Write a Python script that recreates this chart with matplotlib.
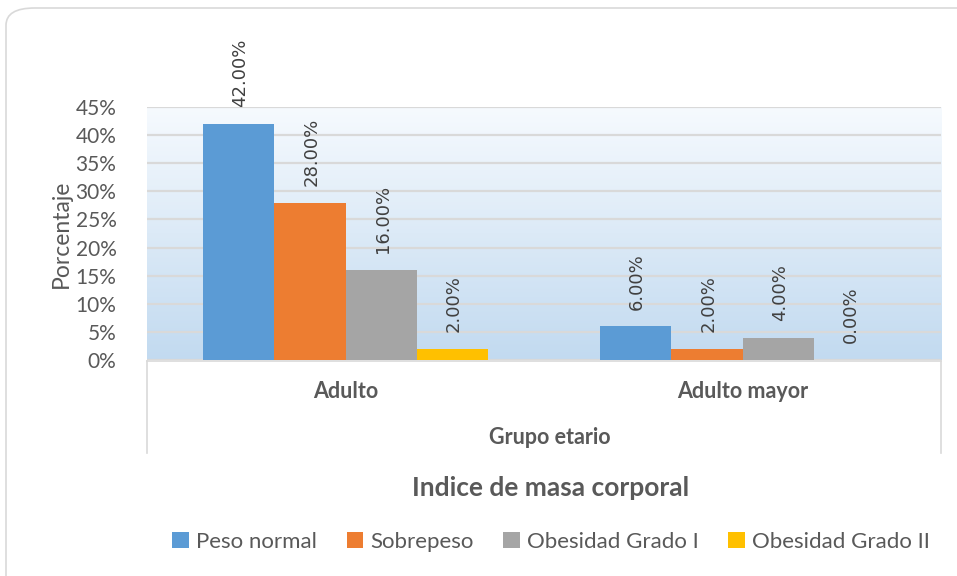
import matplotlib
matplotlib.use("Agg")
import matplotlib.pyplot as plt
import numpy as np
from matplotlib.patches import FancyBboxPatch
from matplotlib.lines import Line2D

# data
grupos = ["Adulto", "Adulto mayor"]
series = ["Peso normal", "Sobrepeso", "Obesidad Grado I", "Obesidad Grado II"]
peso_normal = [0.42, 0.06]
sobrepeso = [0.28, 0.02]
obesidad_1 = [0.16, 0.04]
obesidad_2 = [0.02, 0.00]
colores = ["#5B9BD5", "#ED7D31", "#A5A5A5", "#FFC000"]
valores = [peso_normal, sobrepeso, obesidad_1, obesidad_2]
yticks = [0, 0.05, 0.10, 0.15, 0.20, 0.25, 0.30, 0.35, 0.40, 0.45]

txt = "#595959"
font = "Lato"

fig = plt.figure(figsize=(9.57, 5.76), dpi=100)

# rounded outer frame
frame = FancyBboxPatch((6 / 957, -0.05), 1.05, (576 - 8) / 576 + 0.05,
                       boxstyle="round,pad=0,rounding_size=0.03",
                       transform=fig.transFigure, fc="none", ec="#D9D9D9",
                       lw=1.2, zorder=-1)
fig.patches.append(frame)

left, right, top, bottom = 147, 941, 107, 360
ax = fig.add_axes([left / 957, 1 - bottom / 576, (right - left) / 957, (bottom - top) / 576])
ax.set_xlim(-0.5, 1.5)
ax.set_ylim(0, 0.45)

# gradient background
grad = np.linspace(0, 1, 256)[:, None]
c_top = np.array([246, 250, 254]) / 255
c_bot = np.array([194, 218, 240]) / 255
img = c_top[None, None, :] * (1 - grad[:, :, None]) + c_bot[None, None, :] * grad[:, :, None]
ax.imshow(img, extent=[-0.5, 1.5, 0, 0.45], aspect="auto", zorder=0)

for y in yticks:
    ax.axhline(y, color="#D9D9D9", lw=1.6, zorder=1)

x = np.arange(len(grupos))
w = 0.18
for i, (name, vals, col) in enumerate(zip(series, valores, colores)):
    pos = x + (i - 1.5) * w
    ax.bar(pos, vals, width=w, color=col, label=name, zorder=2)
    for p, v in zip(pos, vals):
        ax.annotate(f"{v * 100:.2f}%", (p, v), xytext=(1, 12), textcoords="offset points",
                    rotation=90, ha="center", va="bottom", fontsize=13,
                    color="#404040", family="DejaVu Sans", annotation_clip=False)

for s in ax.spines.values():
    s.set_visible(False)
ax.set_xticks([])
ax.set_yticks(yticks)
ax.set_yticklabels([f"{int(round(t * 100))}%" for t in yticks], family=font,
                   fontsize=15, color=txt)
ax.tick_params(axis="y", length=0, pad=22)
ax.set_ylabel("Porcentaje", family=font, fontsize=16.5, color=txt, labelpad=3)

# category box below the axis
fig.add_artist(Line2D([left / 957, right / 957], [1 - 361 / 576] * 2,
                      transform=fig.transFigure, color="#D9D9D9", lw=1.2))
for xx in (left, right):
    fig.add_artist(Line2D([xx / 957] * 2, [1 - 361 / 576, 1 - 453 / 576],
                          transform=fig.transFigure, color="#D9D9D9", lw=1.2))

for xi, g in zip(x, grupos):
    ax.text(xi, -0.0565, g, ha="center", va="center", family=font, fontsize=15.5,
            fontweight="bold", color=txt)
fig.text(550 / 957, 1 - 438 / 576, "Grupo etario", ha="center",
         va="center", family=font, fontsize=15.5, fontweight="bold", color=txt)
fig.text(551 / 957, 1 - 488 / 576, "Indice de masa corporal",
         ha="center", va="center", family=font, fontsize=19, fontweight="bold", color=txt)

leg = fig.legend(loc="center", bbox_to_anchor=(551 / 957, 1 - 542 / 576), ncol=4,
                 frameon=False, handlelength=0.75, handleheight=0.75, handletextpad=0.3,
                 columnspacing=1.35, prop={"family": font, "size": 16})
for t in leg.get_texts():
    t.set_color(txt)

fig.savefig("out.png", dpi=100)
